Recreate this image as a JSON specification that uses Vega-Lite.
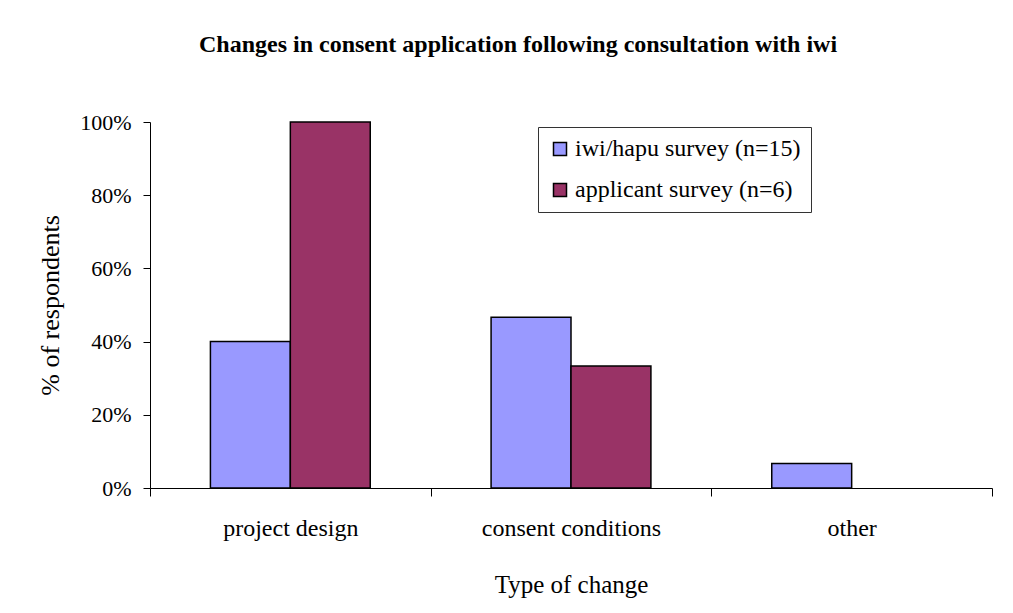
{
  "$schema": "https://vega.github.io/schema/vega-lite/v6.json",
  "autosize": {"type": "none"},
  "width": 842,
  "height": 366,
  "padding": {"left": 150, "top": 122, "right": 21, "bottom": 125},
  "background": "white",
  "title": {
    "text": "Changes in consent application following consultation with iwi",
    "font": "Liberation Serif",
    "fontSize": 24,
    "fontWeight": "bold",
    "color": "black",
    "anchor": "middle",
    "frame": "group",
    "dx": -53,
    "offset": 54
  },
  "data": {
    "values": [
      {"type": "project design", "survey": "iwi/hapu survey (n=15)", "pct": 0.4},
      {"type": "project design", "survey": "applicant survey (n=6)", "pct": 1.0},
      {"type": "consent conditions", "survey": "iwi/hapu survey (n=15)", "pct": 0.4667},
      {"type": "consent conditions", "survey": "applicant survey (n=6)", "pct": 0.3333},
      {"type": "other", "survey": "iwi/hapu survey (n=15)", "pct": 0.0667},
      {"type": "other", "survey": "applicant survey (n=6)", "pct": 0}
    ]
  },
  "mark": {"type": "bar", "stroke": "black", "strokeWidth": 1.5},
  "encoding": {
    "x": {
      "field": "type",
      "type": "nominal",
      "sort": ["project design", "consent conditions", "other"],
      "scale": {"paddingInner": 0, "paddingOuter": 0},
      "axis": {
        "title": "Type of change",
        "labelAngle": 0,
        "tickBand": "extent",
        "tickSize": 8,
        "tickColor": "black",
        "domainColor": "black",
        "labelFont": "Liberation Serif",
        "labelFontSize": 24,
        "labelColor": "black",
        "labelPadding": 20,
        "titleFont": "Liberation Serif",
        "titleFontSize": 25,
        "titleFontWeight": "normal",
        "titleColor": "black",
        "titlePadding": 32
      }
    },
    "xOffset": {
      "field": "survey",
      "type": "nominal",
      "sort": ["iwi/hapu survey (n=15)", "applicant survey (n=6)"],
      "scale": {"paddingInner": 0, "paddingOuter": 0.756}
    },
    "y": {
      "field": "pct",
      "type": "quantitative",
      "scale": {"domain": [0, 1]},
      "axis": {
        "title": "% of respondents",
        "values": [0, 0.2, 0.4, 0.6, 0.8, 1.0],
        "format": ".0%",
        "grid": false,
        "tickSize": 7,
        "tickColor": "black",
        "domainColor": "black",
        "labelFont": "Liberation Serif",
        "labelFontSize": 22,
        "labelColor": "black",
        "labelPadding": 12,
        "titleFont": "Liberation Serif",
        "titleFontSize": 26,
        "titleFontWeight": "normal",
        "titleColor": "black",
        "titlePadding": 16
      }
    },
    "strokeOpacity": {
      "condition": {"test": "datum.pct == 0", "value": 0},
      "value": 1
    },
    "color": {
      "field": "survey",
      "type": "nominal",
      "sort": ["iwi/hapu survey (n=15)", "applicant survey (n=6)"],
      "scale": {"range": ["#9999FF", "#993366"]},
      "legend": {
        "title": null,
        "orient": "none",
        "legendX": 388,
        "legendY": 5,
        "strokeColor": "#333333",
        "fillColor": "white",
        "padding": 10,
        "symbolType": "square",
        "symbolSize": 169,
        "symbolStrokeColor": "black",
        "symbolStrokeWidth": 1.5,
        "symbolOpacity": 1,
        "labelFont": "Liberation Serif",
        "labelFontSize": 24,
        "labelColor": "black",
        "labelOffset": 3,
        "rowPadding": 17,
        "labelLimit": 400
      }
    }
  },
  "config": {
    "view": {"stroke": null}
  }
}
